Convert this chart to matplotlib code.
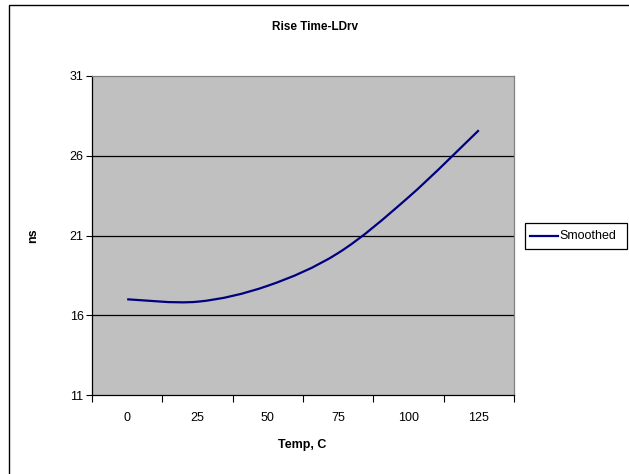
import matplotlib
matplotlib.use('Agg')
import matplotlib.pyplot as plt
import numpy as np
from matplotlib.path import Path
from matplotlib.patches import PathPatch, Rectangle
from matplotlib.lines import Line2D

plt.rcParams['font.family'] = ['Liberation Sans', 'DejaVu Sans']

# data
temps = ['0', '25', '50', '75', '100', '125']
rise_ns = [17.0, 16.85, 17.85, 19.9, 23.4, 27.6]
y_ticks = [11, 16, 21, 26, 31]

W, H = 629, 474
fig = plt.figure(figsize=(W / 100, H / 100), dpi=100)
fig.patch.set_facecolor('white')

# chart area border (cropped at right/bottom like the original)
fig.patches.append(Rectangle((9 / W, -0.05), 1.2, 1 - 4.5 / H + 0.05, transform=fig.transFigure,
                             fill=False, edgecolor='black', linewidth=1.0))

left, right, top, bottom = 92, 514, 76, 395
ax = fig.add_axes([left / W, 1 - bottom / H, (right - left) / W, (bottom - top) / H])
ax.set_facecolor('#C0C0C0')

x = np.arange(len(temps))
ax.set_xlim(-0.5, len(temps) - 0.5)
ax.set_ylim(y_ticks[0], y_ticks[-1])

# horizontal gridlines
for v in y_ticks[1:-1]:
    ax.axhline(v, color='black', linewidth=0.9, zorder=1)

# smoothed line (Excel style bezier through the points)
pts = np.column_stack([x, rise_ns]).astype(float)
n = len(pts)
verts = [pts[0]]
codes = [Path.MOVETO]
for i in range(n - 1):
    p0 = pts[max(i - 1, 0)]
    p1 = pts[i]
    p2 = pts[i + 1]
    p3 = pts[min(i + 2, n - 1)]
    c1 = p1 + (p2 - p0) / 6.0
    c2 = p2 - (p3 - p1) / 6.0
    verts += [c1, c2, p2]
    codes += [Path.CURVE4] * 3
ax.add_patch(PathPatch(Path(verts, codes), facecolor='none', edgecolor='#000080',
                       linewidth=1.6, zorder=3))

# spines
for s in ['top', 'right']:
    ax.spines[s].set_color('#808080')
for s in ['left', 'bottom']:
    ax.spines[s].set_color('black')
for s in ax.spines.values():
    s.set_linewidth(0.9)

# axes ticks
ax.set_yticks(y_ticks)
ax.tick_params(axis='y', direction='out', length=4, width=0.8, labelsize=9, pad=2)
ax.set_xticks(np.arange(-0.5, len(temps), 1.0))
ax.set_xticklabels([])
ax.set_xticks(x, minor=True)
ax.set_xticklabels(temps, minor=True)
ax.tick_params(axis='x', which='major', direction='out', length=5, width=0.8)
ax.tick_params(axis='x', which='minor', length=0, labelsize=9, pad=12)

fig.text(315 / W, 1 - 27 / H, 'Rise Time-LDrv', ha='center', va='center',
         fontsize=8.5, fontweight='bold')
fig.text(33 / W, 1 - 236 / H, 'ns', ha='center', va='center', rotation=90,
         fontsize=9, fontweight='bold')
fig.text(302 / W, 1 - 445 / H, 'Temp, C', ha='center', va='center',
         fontsize=9, fontweight='bold')

# legend box
fig.patches.append(Rectangle((525 / W, 1 - 249 / H), 102 / W, 26 / H, transform=fig.transFigure,
                             facecolor='white', edgecolor='black', linewidth=0.9))
fig.lines.append(Line2D([530 / W, 558 / W], [1 - 236 / H, 1 - 236 / H], transform=fig.transFigure,
                        color='#000080', linewidth=1.6))
fig.text(559 / W, 1 - 236 / H, 'Smoothed', ha='left', va='center', fontsize=9)

fig.savefig('out.png', dpi=100)
